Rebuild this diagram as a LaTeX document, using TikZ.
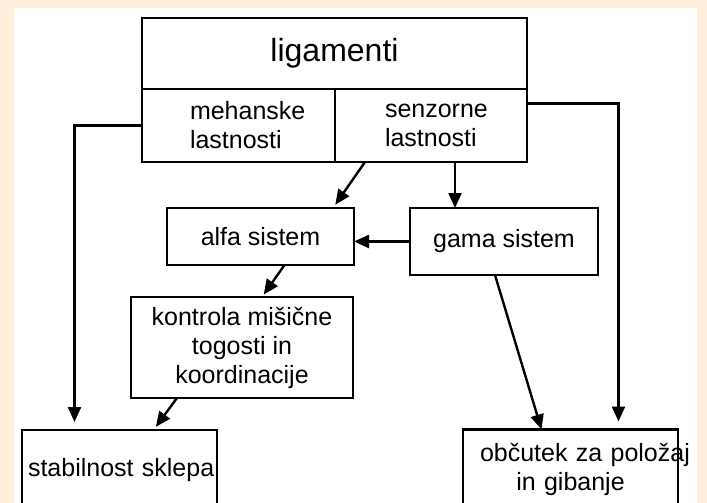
\documentclass[tikz,border=0pt]{standalone}
\usepackage{fontspec}
\setmainfont{Liberation Sans}
\usetikzlibrary{arrows.meta,positioning}
\definecolor{cream}{RGB}{253,239,219}
\hyphenpenalty=10000

\begin{document}
\begin{tikzpicture}[x=1pt, y=-1pt,
node distance=0pt,
  box/.style = {rectangle, draw, line width=2.8pt,% frames of the scheme
                font=\fontsize{25}{29}\selectfont,
                inner sep=0pt, outer sep=0pt, align=center},
 half/.style = {box, minimum height=73pt, align=left},
  arr/.style = {line width=2.4pt, -{Triangle[length=15pt,width=13pt]}},
                    ]
\useasboundingbox (0,0) rectangle (707,503);
\fill[cream] (0,0) rectangle (707,503);
\fill[white] (14,8) rectangle (697,503);
\clip (0,0) rectangle (707,503);
% top block
\node[box, minimum width=385pt, minimum height=71pt,
      font=\fontsize{32}{36}\selectfont] (lig) at (334.5,53.5) {ligamenti};
\node[half, inner xsep=48pt, text width=97pt,
      below right=of lig.south west] (meh) {mehanske\\lastnosti};
\node[half, inner xsep=50pt, text width=92pt, right=of meh] (sen) {senzorne\\lastnosti};
% middle
\node[box, minimum width=187pt, minimum height=57pt] (alf) at (260.5,236.5) {alfa sistem};
\node[box, minimum width=188pt, minimum height=67pt] (gam) at (504,241.5) {gama sistem};
\node[box, minimum width=222pt, minimum height=101pt] (kon) at (242,347.5)
     {kontrola mišične\\togosti in\\koordinacije};
% bottom
\node[box, inner xsep=6pt, text width=183pt, minimum height=80pt,
      align=left] (stab) at (119.5,470) {stabilnost~sklepa};
\node[box, inner xsep=17pt, text width=181pt, minimum height=80pt] (obc) at (570.5,469.5)
     {občutek~za~položaj\\in gibanje};
% connectors
\draw[arr, shorten >=8pt] (meh.west) -| ([xshift=-45pt]stab.north);
\draw[arr, shorten >=8pt] ([yshift=22pt]sen.east) -| ([xshift=48pt]obc.north);
\draw[arr] ([xshift=24pt]sen.south) -- ([xshift=24pt]sen.south |- gam.north);
\draw[arr, shorten >=4pt] ([xshift=30pt]sen.south west) -- ([xshift=-21pt]alf.north east);
\draw[arr] (gam.west) -- (gam.west -| alf.east);
\draw[arr, shorten >=3pt] ([xshift=24pt]alf.south) -- ([xshift=20pt]kon.north);
\draw[arr, shorten >=4pt] ([xshift=-65pt]kon.south) -- ([xshift=34pt]stab.north);
\draw[arr] ([xshift=-9pt]gam.south) -- ([xshift=-29pt]obc.north);
\end{tikzpicture}
\end{document}
